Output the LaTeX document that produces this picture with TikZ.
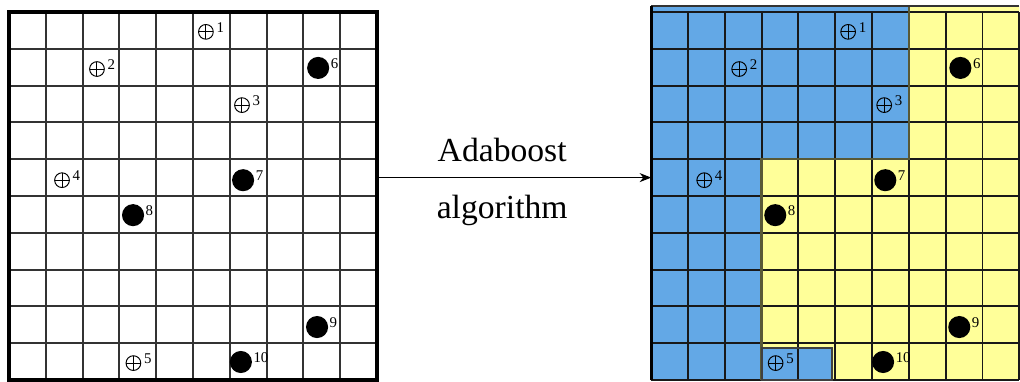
\documentclass[tikz,border=0pt]{standalone}
\usepackage{fontspec}
\setmainfont{Liberation Serif}
\usetikzlibrary{arrows.meta}

\definecolor{regblue}{RGB}{99,168,230}
\definecolor{regyellow}{RGB}{255,255,153}

\tikzset{
  plusmark/.style={circle, draw, line width=0.75pt, inner sep=0pt, minimum size=0.4cm,
    path picture={\draw[line width=0.75pt]
      (path picture bounding box.north) -- (path picture bounding box.south)
      (path picture bounding box.west) -- (path picture bounding box.east);}},
  dotmark/.style={circle, fill=black, inner sep=0pt, minimum size=0.6cm},
  numlabel/.style={inner sep=0pt, anchor=west, font=\fontsize{11.5}{11.5}\selectfont},
  gridline/.style={line width=1.5pt},
  bigtext/.style={font=\fontsize{26}{30}\selectfont},
}

% the ten training samples, placed in a 10x10 grid
\newcommand{\samples}{
  \node[plusmark] (p1) at (5.35,9.46) {};
  \node[numlabel] (n1) at ([shift={(0.07,0.12)}]p1.east) {1};
  \node[plusmark] (p2) at (2.39,8.45) {};
  \node[numlabel] (n2) at ([shift={(0.07,0.12)}]p2.east) {2};
  \node[plusmark] (p3) at (6.33,7.47) {};
  \node[numlabel] (n3) at ([shift={(0.07,0.12)}]p3.east) {3};
  \node[plusmark] (p4) at (1.44,5.43) {};
  \node[numlabel] (n4) at ([shift={(0.07,0.12)}]p4.east) {4};
  \node[plusmark] (p5) at (3.38,0.46) {};
  \node[numlabel] (n5) at ([shift={(0.07,0.12)}]p5.east) {5};
  \node[dotmark] (p6) at (8.40,8.48) {};
  \node[numlabel] (n6) at ([shift={(0.03,0.12)}]p6.east) {6};
  \node[dotmark] (p7) at (6.36,5.43) {};
  \node[numlabel] (n7) at ([shift={(0.03,0.12)}]p7.east) {7};
  \node[dotmark] (p8) at (3.37,4.48) {};
  \node[numlabel] (n8) at ([shift={(0.03,0.12)}]p8.east) {8};
  \node[dotmark] (p9) at (8.37,1.44) {};
  \node[numlabel] (n9) at ([shift={(0.03,0.12)}]p9.east) {9};
  \node[dotmark] (p10) at (6.30,0.49) {};
  \node[numlabel] (n10) at ([shift={(0.03,0.12)}]p10.east) {10};
}

\begin{document}
\begin{tikzpicture}
  \useasboundingbox (-0.245,-0.027) rectangle (27.47,10.326);

  % input samples
  \begin{scope}[name prefix=L-]
    \draw[gridline, black!80] (0,0) grid (10,10);
    \draw[line width=2.6pt] (0,0) rectangle (10,10);
    \samples
    \coordinate (out) at (10,5.5);
  \end{scope}

  % regions after boosting
  \begin{scope}[xshift=17.45cm, name prefix=R-]
    \fill[regblue] (0,10.16) -- (7,10.16) -- (7,6) -- (3,6) -- (3,0) -- (0,0) -- cycle;
    \fill[regyellow] (7,10.16) -- (10,10.16) -- (10,0) -- (3,0) -- (3,6) -- (7,6) -- cycle;
    \fill[regblue] (3,0) rectangle (4.92,0.87);
    \draw[gridline, black!90] (0,0) grid (10,10);
    \draw[line width=2pt, black!65!regyellow] (7,10.16) -- (7,6) -- (3,6) -- (3,0);
    \draw[line width=1.5pt, black!75] (3,0) rectangle (4.92,0.87);
    \draw[line width=1.3pt, black!80] (0,10.16) -- (10,10.16);
    \draw[line width=2.2pt] (0,0) -- (0,10.16);
    \samples
    \coordinate (in) at (0,5.5);
  \end{scope}

  \draw[-{Stealth[length=9pt,width=7pt]}, line width=0.8pt] (L-out) -- (R-in);
  \node[bigtext] (ada) at (13.4,6.25) {Adaboost};
  \node[bigtext] (alg) at (13.4,4.62) {algorithm};
\end{tikzpicture}
\end{document}
